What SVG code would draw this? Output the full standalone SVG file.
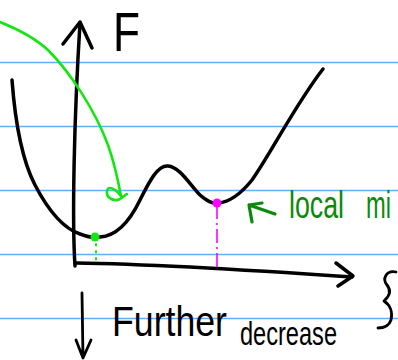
<svg xmlns="http://www.w3.org/2000/svg" width="398" height="360" viewBox="0 0 398 360">
<defs>
<style>
.rule{stroke:#62aefc;stroke-width:1.6;fill:none}
.ink{stroke:#000;stroke-width:3.5;fill:none;stroke-linecap:round;stroke-linejoin:round}
.thin{stroke:#000;stroke-width:2.8;fill:none;stroke-linecap:round;stroke-linejoin:round}
.lime{stroke:#14e614;stroke-width:2.6;fill:none;stroke-linecap:round;stroke-linejoin:round}
.dg{stroke:#0a8a0a;stroke-width:3.2;fill:none;stroke-linecap:round;stroke-linejoin:round}
.hand{font-family:"Liberation Sans",Arial,sans-serif}
</style>
</defs>
<rect width="398" height="360" fill="#fff"/>
<g id="rules">
<line class="rule" x1="0" y1="62.5" x2="398" y2="62.5"/>
<line class="rule" x1="0" y1="126.5" x2="398" y2="126.5"/>
<line class="rule" x1="0" y1="190.5" x2="398" y2="190.5"/>
<line class="rule" x1="0" y1="254.5" x2="398" y2="254.5"/>
<line class="rule" x1="0" y1="318.5" x2="398" y2="318.5"/>
</g>
<g id="axes">
<path class="ink" d="M75,266 C72,220 74,120 80,23"/>
<path class="ink" d="M63,44 L80,22 L92,48"/>
<path class="ink" d="M76,263 C150,264 250,270 352,277"/>
<path class="ink" d="M336,263 L353,276 L338,286"/>
<text class="hand" x="113" y="51" font-size="56" textLength="27" lengthAdjust="spacingAndGlyphs" fill="#000">F</text>
</g>
<g id="curve">
<path class="ink" d="M12,80 C15,120 22,160 35,185 C48,210 62,228 80,234 C88,237 95,238 100,237 C115,236 128,225 140,200 C150,180 158,165 168,166 C180,167 190,185 200,195 C207,201 212,204 218,203 C230,202 240,195 252,180 C270,155 295,105 323,69"/>
</g>
<g id="global-min">
<line x1="96" y1="244" x2="96" y2="261" stroke="#14e614" stroke-width="2" stroke-dasharray="1.5 5.5" stroke-linecap="round"/>
<circle cx="95" cy="237" r="4.5" fill="#14e614"/>
</g>
<g id="local-min">
<line x1="217" y1="205" x2="217" y2="268" stroke="#ff00ff" stroke-width="1.6" stroke-dasharray="14 4 2 4"/>
<circle cx="217" cy="203" r="4.5" fill="#ff00ff"/>
</g>
<g id="connectors">
<path class="lime" d="M0,22 C20,30 35,38 48,50 C70,72 95,110 108,145 C114,162 118,180 121,196 C116,189 108,185 107,191 C106,198 114,202 120,199 C123,197 125,195 127,194"/>
<path class="dg" d="M275,214 L249,205 M249,205 L252,222 M249,205 L262,203"/>
</g>
<g id="label-local">
<text class="hand" y="218" font-size="38" fill="#0a8a0a"><tspan x="289" textLength="55" lengthAdjust="spacingAndGlyphs">local</tspan><tspan x="366" textLength="25" lengthAdjust="spacingAndGlyphs">mi</tspan></text>
</g>
<g id="further">
<path class="thin" d="M82,293 L83,358 M76,340 L83,358 L91,340"/>
<text class="hand" font-size="42" fill="#000"><tspan x="112" y="336" textLength="115" lengthAdjust="spacingAndGlyphs">Further</tspan><tspan x="240" y="345" font-size="33" textLength="97" lengthAdjust="spacingAndGlyphs">decrease</tspan></text>
</g>
<g id="brace">
<path class="thin" d="M396,272 C386,270 382,279 387,285 C391,290 391,295 384,301 C390,305 393,312 391,320 C389,326 384,328 378,328"/>
</g>
</svg>
